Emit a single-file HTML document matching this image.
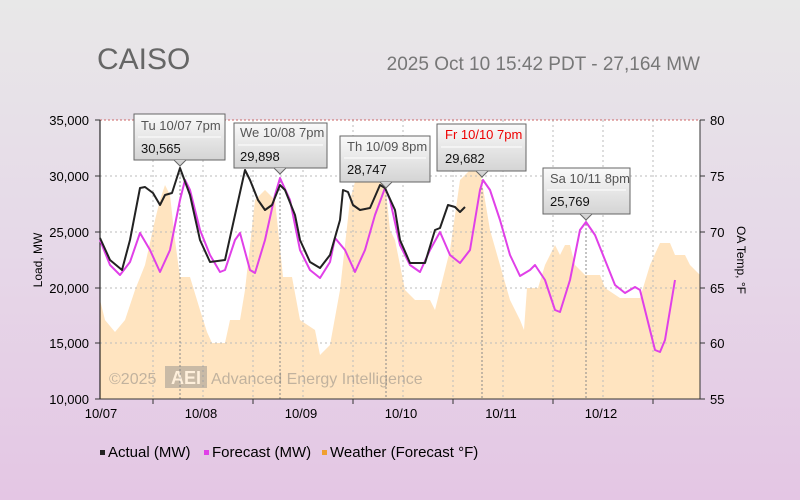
<!DOCTYPE html>
<html><head><style>
html,body{margin:0;width:800px;height:500px;overflow:hidden}
body{background:linear-gradient(#e8e8e8 0%,#e6d8e8 50%,#e4c6e4 100%)}
svg{display:block}
</style></head><body>
<svg width="800" height="500" xmlns="http://www.w3.org/2000/svg" font-family="Liberation Sans, sans-serif">
<defs><linearGradient id="tg" x1="0" y1="0" x2="0" y2="1"><stop offset="0" stop-color="#fafafa"/><stop offset="1" stop-color="#d4d4d4"/></linearGradient></defs>
<text x="97" y="69" font-size="30" fill="#666">CAISO</text>
<text x="700" y="70" font-size="19" fill="#777" text-anchor="end">2025 Oct 10 15:42 PDT - 27,164 MW</text>
<rect x="100" y="120" width="600" height="279" fill="#fff"/>
<polygon fill="#ffe4c0" points="100,399 100,300 105,320 115,332 125,320 135,290 145,265 155,220 160,200 165,185 170,195 175,240 180,277 190,277 200,310 207,332 212,343 225,343 230,320 240,320 245,290 255,200 265,190 275,200 283,277 292,277 300,320 315,330 320,355 330,345 340,290 350,200 355,182 385,182 390,230 395,240 405,290 415,300 430,300 435,310 440,290 450,250 460,180 470,170 480,170 485,200 490,230 500,265 510,300 520,320 524,330 527,288 538,288 545,265 555,245 560,255 565,245 570,245 575,265 585,275 600,275 605,288 620,298 640,298 650,265 660,243 670,243 675,255 685,255 690,265 700,275 700,399"/>
<g stroke="#bbb" stroke-dasharray="2,3" stroke-width="1">
<line x1="100" y1="176" x2="700" y2="176"/><line x1="100" y1="232" x2="700" y2="232"/><line x1="100" y1="288" x2="700" y2="288"/><line x1="100" y1="343" x2="700" y2="343"/>
<line x1="153" y1="120" x2="153" y2="399"/><line x1="203" y1="120" x2="203" y2="399"/><line x1="253" y1="120" x2="253" y2="399"/><line x1="303" y1="120" x2="303" y2="399"/><line x1="353" y1="120" x2="353" y2="399"/><line x1="403" y1="120" x2="403" y2="399"/><line x1="453" y1="120" x2="453" y2="399"/><line x1="503" y1="120" x2="503" y2="399"/><line x1="553" y1="120" x2="553" y2="399"/><line x1="603" y1="120" x2="603" y2="399"/><line x1="653" y1="120" x2="653" y2="399"/>
</g>
<g stroke="#888" stroke-dasharray="2,2"><line x1="180" y1="165" x2="180" y2="399"/><line x1="280" y1="173" x2="280" y2="399"/><line x1="386" y1="187" x2="386" y2="399"/><line x1="482" y1="176" x2="482" y2="399"/><line x1="586" y1="220" x2="586" y2="399"/></g>
<line x1="100" y1="120" x2="700" y2="120" stroke="#c66" stroke-dasharray="2,2"/>
<line x1="100" y1="120" x2="100" y2="399" stroke="#000"/>
<line x1="700" y1="120" x2="700" y2="399" stroke="#333"/>
<line x1="100" y1="399" x2="700" y2="399" stroke="#333"/>
<g font-size="13" fill="#000" text-anchor="end">
<text x="89" y="125">35,000</text><text x="89" y="181">30,000</text><text x="89" y="237">25,000</text><text x="89" y="293">20,000</text><text x="89" y="348">15,000</text><text x="89" y="404">10,000</text></g>
<g stroke="#333"><line x1="95" y1="120" x2="100" y2="120"/><line x1="95" y1="176" x2="100" y2="176"/><line x1="95" y1="232" x2="100" y2="232"/><line x1="95" y1="288" x2="100" y2="288"/><line x1="95" y1="343" x2="100" y2="343"/><line x1="95" y1="399" x2="100" y2="399"/>
<line x1="700" y1="120" x2="705" y2="120"/><line x1="700" y1="176" x2="705" y2="176"/><line x1="700" y1="232" x2="705" y2="232"/><line x1="700" y1="288" x2="705" y2="288"/><line x1="700" y1="343" x2="705" y2="343"/><line x1="700" y1="399" x2="705" y2="399"/>
<line x1="153" y1="399" x2="153" y2="404"/><line x1="253" y1="399" x2="253" y2="404"/><line x1="353" y1="399" x2="353" y2="404"/><line x1="453" y1="399" x2="453" y2="404"/><line x1="553" y1="399" x2="553" y2="404"/><line x1="653" y1="399" x2="653" y2="404"/></g>
<g font-size="13" fill="#000"><text x="710" y="125">80</text><text x="710" y="181">75</text><text x="710" y="237">70</text><text x="710" y="293">65</text><text x="710" y="348">60</text><text x="710" y="404">55</text></g>
<g font-size="13" fill="#000" text-anchor="middle"><text x="101" y="418">10/07</text><text x="201" y="418">10/08</text><text x="301" y="418">10/09</text><text x="401" y="418">10/10</text><text x="501" y="418">10/11</text><text x="601" y="418">10/12</text></g>
<text transform="translate(42,260) rotate(-90)" font-size="12" text-anchor="middle">Load, MW</text>
<text transform="translate(737,260) rotate(90)" font-size="12" text-anchor="middle">OA Temp, °F</text>
<g opacity="0.45" fill="#777"><text x="109" y="384" font-size="16">©2025</text><rect x="165" y="366" width="42" height="22" fill="#888"/><text x="186" y="384" font-size="18" fill="#fff" text-anchor="middle" font-weight="bold">AEI</text><text x="211" y="384" font-size="16">Advanced Energy Intelligence</text></g>
<polyline fill="none" stroke="#e040e8" stroke-width="2" stroke-linejoin="round" points="100,240 110,265 120,275 130,262 140,233 150,250 160,272 170,250 180,200 185,180 190,190 200,230 210,255 220,272 225,270 235,240 240,233 250,270 255,273 265,240 275,195 280,178 290,200 300,250 310,270 320,278 330,262 335,238 345,250 355,272 365,250 375,215 385,188 390,200 400,245 410,265 420,272 430,250 440,232 450,255 460,263 470,250 480,190 483,180 490,190 500,220 510,255 520,276 530,270 535,265 545,280 555,310 560,312 570,280 580,230 586,222 595,235 605,260 615,285 625,293 635,287 640,290 650,330 655,350 660,352 665,340 675,280"/>
<polyline fill="none" stroke="#222" stroke-width="2" stroke-linejoin="round" points="100,238 110,260 122,270 130,240 140,188 145,187 153,193 160,205 165,195 172,193 180,168 190,195 200,240 210,262 225,260 235,215 245,170 250,180 258,200 265,210 272,205 280,185 285,190 295,215 300,240 310,262 320,268 330,255 340,220 343,190 348,192 353,205 360,210 370,208 380,185 385,188 395,210 400,240 410,263 425,263 435,230 440,228 448,205 455,207 460,212 465,207"/>
<g font-size="13">
<g><rect x="134" y="114" width="91" height="46" fill="url(#tg)" stroke="#666"/><path d="M174,160 L180,166 L186,160" fill="#d4d4d4" stroke="#666"/><text x="141" y="130" fill="#555">Tu 10/07 7pm</text><line x1="138" y1="137" x2="221" y2="137" stroke="#fff"/><text x="141" y="153" fill="#111">30,565</text></g>
<g><rect x="234" y="123" width="93" height="45" fill="url(#tg)" stroke="#666"/><path d="M274,168 L280,174 L286,168" fill="#d4d4d4" stroke="#666"/><text x="240" y="137" fill="#555">We 10/08 7pm</text><line x1="238" y1="145" x2="323" y2="145" stroke="#fff"/><text x="240" y="161" fill="#111">29,898</text></g>
<g><rect x="340" y="136" width="90" height="46" fill="url(#tg)" stroke="#666"/><path d="M380,182 L386,188 L392,182" fill="#d4d4d4" stroke="#666"/><text x="347" y="151" fill="#555">Th 10/09 8pm</text><line x1="344" y1="158" x2="426" y2="158" stroke="#fff"/><text x="347" y="174" fill="#111">28,747</text></g>
<g><rect x="437" y="124" width="89" height="47" fill="url(#tg)" stroke="#666"/><path d="M476,171 L482,177 L488,171" fill="#d4d4d4" stroke="#666"/><text x="445" y="139" fill="#e00">Fr 10/10 7pm</text><line x1="441" y1="147" x2="522" y2="147" stroke="#fff"/><text x="445" y="163" fill="#111">29,682</text></g>
<g><rect x="543" y="168" width="87" height="46" fill="url(#tg)" stroke="#666"/><path d="M580,214 L586,220 L592,214" fill="#d4d4d4" stroke="#666"/><text x="550" y="183" fill="#555">Sa 10/11 8pm</text><line x1="547" y1="190" x2="626" y2="190" stroke="#fff"/><text x="550" y="206" fill="#111">25,769</text></g>
</g>
<g font-size="15" fill="#000">
<rect x="100" y="450" width="5" height="5" fill="#222"/><text x="108" y="457">Actual (MW)</text>
<rect x="204" y="450" width="5" height="5" fill="#e040e8"/><text x="212" y="457">Forecast (MW)</text>
<rect x="322" y="450" width="5" height="5" fill="#f0a030"/><text x="330" y="457">Weather (Forecast °F)</text>
</g>
</svg>
</body></html>
